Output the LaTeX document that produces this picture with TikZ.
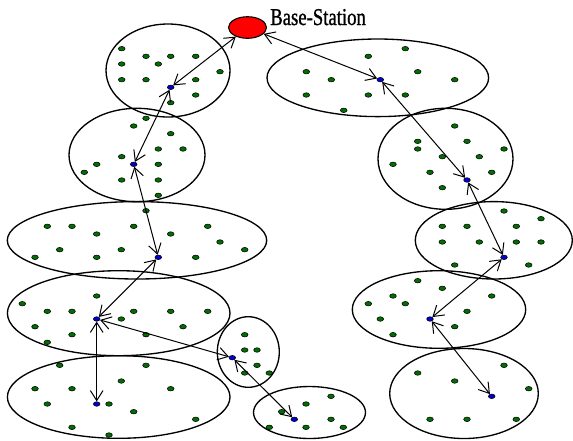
\documentclass[tikz,border=0pt]{standalone}
\usepackage{fontspec}
\setmainfont{Liberation Serif}
\newfontfamily\bsfont[FakeBold=1.2]{Liberation Serif}
\usetikzlibrary{shapes.geometric,arrows.meta}
\definecolor{sgreen}{RGB}{0,110,0}
\definecolor{hblue}{RGB}{0,0,210}
\tikzset{
  cluster/.style={draw=black,line width=1pt},
  sensor/.style={ellipse,draw=black,line width=0.4pt,fill=sgreen,minimum width=5pt,minimum height=3.4pt,inner sep=0pt},
  head/.style={sensor,fill=hblue},
  link/.style={line width=0.75pt,{Straight Barb[length=7.5pt,width=9.5pt]}-{Straight Barb[length=7.5pt,width=9.5pt]}},
}
\begin{document}
\begin{tikzpicture}[x=0.75pt,y=-0.75pt]
\useasboundingbox (0,0) rectangle (573,440);
% cluster areas
\draw[cluster] (168,70.5) ellipse [x radius=62, y radius=46.5];
\draw[cluster] (137,155) ellipse [x radius=68, y radius=46.7];
\draw[cluster] (137,240.3) ellipse [x radius=129.7, y radius=38.7];
\draw[cluster] (118.7,313.2) ellipse [x radius=111.3, y radius=42.5];
\draw[cluster] (118.7,397) ellipse [x radius=111.3, y radius=41.3];
\draw[cluster] (248.3,352) ellipse [x radius=31, y radius=35.3];
\draw[cluster] (309.5,412.5) ellipse [x radius=56, y radius=26];
\draw[cluster] (377.8,77.8) ellipse [x radius=110.8, y radius=38.8];
\draw[cluster] (445.5,158.8) ellipse [x radius=67.5, y radius=50.5];
\draw[cluster] (493.8,240.3) ellipse [x radius=78.5, y radius=38.7];
\draw[cluster] (439,309.5) ellipse [x radius=86.7, y radius=38.8];
\draw[cluster] (464,393.5) ellipse [x radius=74.3, y radius=45];
% ordinary sensor nodes
\foreach \px/\py [count=\i] in {
 121.7/48.7,146/56.3,170.7/56.3,195.7/56.3,121.7/64,158.3/64,220/71.7,121.7/79.7,146/79.7,195.7/79.7,195.7/95,170.7/102.7,
 146/118.3,133.7/126,170.7/133.7,158.3/149,183/149,121.7/156.7,96.7/164.3,158.3/164.3,84.3/172.3,121.7/180,158.3/180,158.3/195.3,146/210.7,
 47.3/226.3,72/226.3,133.7/226.3,207.7/226.3,96.7/234,170.7/234,220/242,59.7/249.7,121.3/249.7,244.7/249.7,35/257.3,96.7/257.3,195.7/257.3,
 96.7/296,22.3/303.7,47.3/311.3,72/311.3,133.7/311.3,170.7/311.3,207.7/311.3,121.3/319,35/326.7,183/326.7,72/334.7,146/334.7,47.3/342.3,
 59.7/365.3,146/365.3,121.3/381,35/388.7,72/388.7,170.7/388.7,47.3/404,109/404,133.7/411.7,195.7/419.3,72/427.3,109/435,
 244.7/334.7,244.7/350,257/350,257/365.3,244.7/373,269.3/373,
 331/396.3,306/404,281.7/411.7,331/419.3,269.3/427.3,306/427.3,343.3/427.3,
 405.3/48.7,368.3/56.3,306.3/71.7,417.7/71.7,331.3/79.7,454.7/79.7,306.3/95,368.3/95,405.3/95,343.7/110.3,
 454.7/126,417.7/141.3,467/141.3,417.7/149,504/149,442.3/156.7,479.3/156.7,393/164.3,430/172.3,491.7/172.3,442.3/187.7,
 504/211,541/218.7,442.3/226.3,467/226.3,516.3/226.3,442.3/242,479.3/242,516.3/242,541/242,454.7/265,528.7/265,
 417.7/280.7,442.3/288.3,393/296,491.7/296,368.3/303.7,405.3/303.7,467/311.3,380.3/319,454.7/326.7,393/334.7,
 504/365.3,417.7/373,454.7/381,528.7/388.7,430/419.3,467/419.3,516.3/419.3}
 \node[sensor] (s\i) at (\px,\py) {};
% cluster heads
\node[head] (h1) at (170.7,87.3) {};
\node[head] (h2) at (133.7,164.3) {};
\node[head] (h3) at (158.3,257.3) {};
\node[head] (h4) at (96.7,319) {};
\node[head] (h5) at (96.7,404) {};
\node[head] (h6) at (232.3,357.7) {};
\node[head] (h7) at (294.3,419.3) {};
\node[head] (r1) at (380.3,79.7) {};
\node[head] (r2) at (467,180) {};
\node[head] (r3) at (504,257.3) {};
\node[head] (r4) at (430,319) {};
\node[head] (r5) at (491.7,396.3) {};
% base station
\node[ellipse,draw=black,line width=0.8pt,fill=red,minimum width=28.5pt,minimum height=16.2pt,inner sep=0pt] (bs) at (247.5,27.5) {};
\node[anchor=base west,inner sep=0pt] (bslabel) at (270,25) {\bsfont\fontsize{18.1pt}{20pt}\selectfont\scalebox{0.775}[1]{Base-Station}};
% links
\draw[link] (bs) -- (h1);
\draw[link] (bs) -- (r1);
\draw[link] (h1) -- (h2);
\draw[link] (h2) -- (h3);
\draw[link] (h3) -- (h4);
\draw[link] (h4) -- (h5);
\draw[link] (h4) -- (h6);
\draw[link] (h6) -- (h7);
\draw[link] (r1) -- (r2);
\draw[link] (r2) -- (r3);
\draw[link] (r3) -- (r4);
\draw[link] (r4) -- (r5);
\end{tikzpicture}
\end{document}
